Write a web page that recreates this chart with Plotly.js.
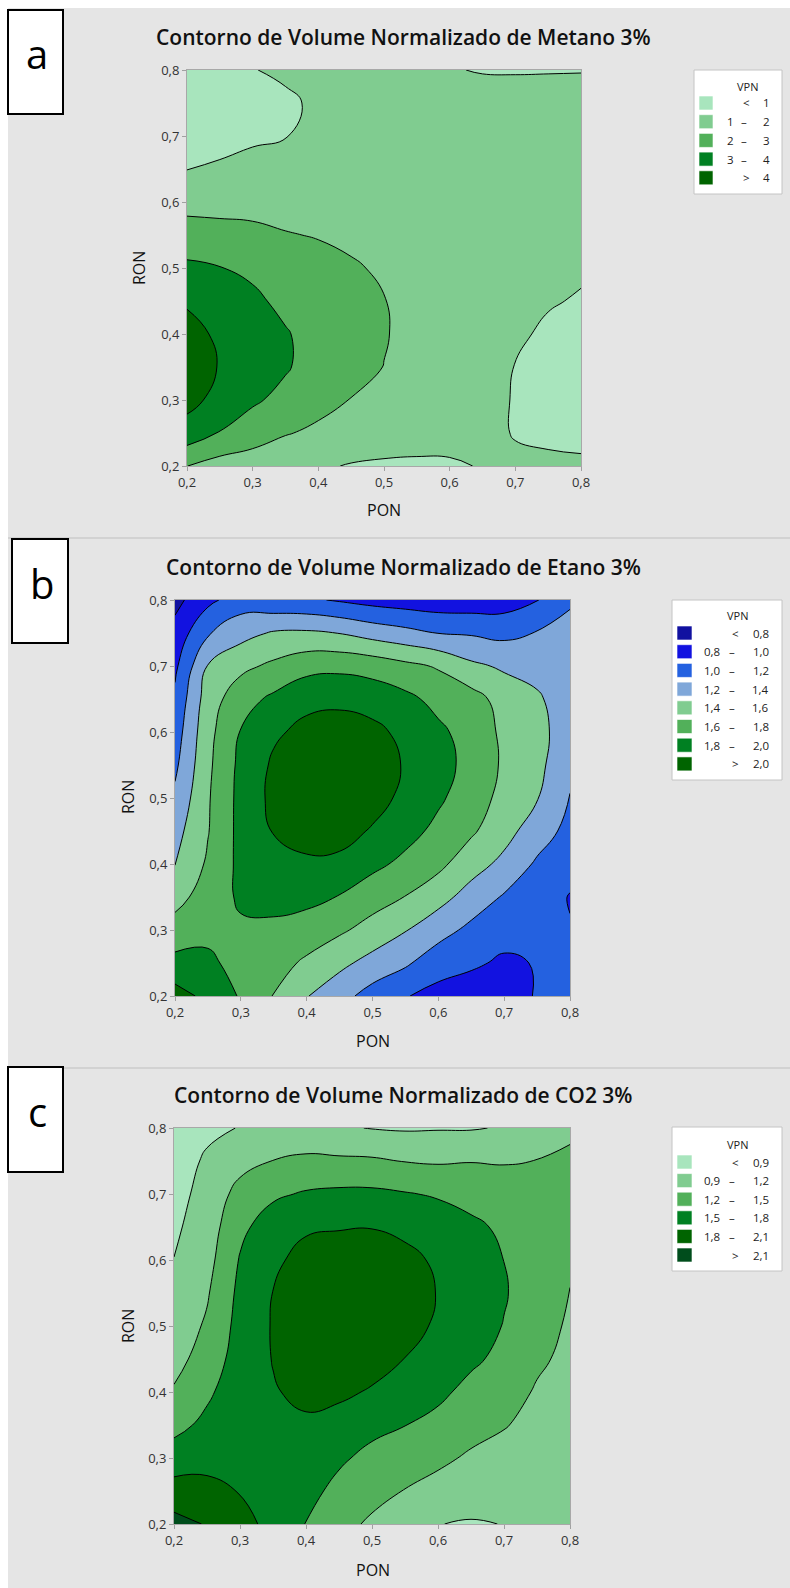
<!DOCTYPE html>
<html>
<head>
<meta charset="utf-8">
<script src="https://cdn.plot.ly/plotly-3.0.1.min.js"></script>
<style>
html,body{margin:0;padding:0;background:#ffffff;}
#chart{width:790px;height:1588px;}
</style>
</head>
<body>
<div id="chart"></div>
<script>
// ---------- grid (PON on x, RON on y) ----------
const pon = [0.2,0.25,0.3,0.35,0.4,0.45,0.5,0.55,0.6,0.65,0.7,0.75,0.8];
const ron = [0.2,0.25,0.3,0.35,0.4,0.45,0.5,0.55,0.6,0.65,0.7,0.75,0.8];
const tickVals = [0.2,0.3,0.4,0.5,0.6,0.7,0.8];

// ---------- (a) Metano 3% : VPN, rows = RON, cols = PON ----------
const vpnMetano = [
  [2.01,1.6,1.5,1.4,1.1,0.95,0.9,0.9,0.93,1.03,1.1,1.15,1.12],
  [3.6,2.95,2.45,2.05,1.85,1.5,1.35,1.25,1.2,1.15,0.97,0.85,0.8],
  [4.3,3.7,3.15,2.7,2.25,1.98,1.7,1.5,1.35,1.25,0.95,0.8,0.7],
  [4.5,3.95,3.4,3.1,2.55,2.2,1.99,1.7,1.5,1.35,0.98,0.82,0.72],
  [4.3,3.85,3.45,3.08,2.6,2.3,2.04,1.8,1.6,1.42,1.1,0.9,0.8],
  [3.9,3.5,3.2,2.75,2.5,2.25,2.02,1.8,1.6,1.45,1.25,1.05,0.95],
  [3.2,3.03,2.8,2.4,2.3,2.08,1.9,1.75,1.6,1.48,1.35,1.2,1.08],
  [2.4,2.35,2.25,2.05,1.95,1.85,1.75,1.65,1.55,1.5,1.45,1.35,1.25],
  [1.7,1.65,1.65,1.65,1.65,1.6,1.6,1.55,1.5,1.5,1.5,1.45,1.4],
  [0.98,1.1,1.2,1.25,1.4,1.45,1.5,1.5,1.45,1.45,1.5,1.5,1.45],
  [0.6,0.75,0.9,0.98,1.2,1.35,1.45,1.5,1.4,1.4,1.45,1.45,1.45],
  [0.45,0.55,0.75,0.9,1.1,1.3,1.45,1.45,1.3,1.3,1.3,1.3,1.3],
  [0.5,0.55,0.98,1.1,1.25,1.4,1.5,1.3,1.04,0.96,0.95,0.96,0.97]
];
const levelsMetano = [1,2,3,4];
const colorsMetano = ['#a8e5bd','#80cc90','#52b05a','#008022','#006400'];

// ---------- (b) Etano 3% ----------
const vpnEtano = [
  [2.08,1.95,1.78,1.59,1.41,1.27,1.12,1.01,0.94,0.9,0.88,1.02,1.08],
  [1.86,1.84,1.73,1.67,1.57,1.45,1.33,1.23,1.08,1.03,0.97,1.01,1.05],
  [1.68,1.75,1.77,1.76,1.7,1.63,1.53,1.41,1.28,1.15,1.07,1.05,1.01],
  [1.53,1.69,1.83,1.86,1.86,1.79,1.68,1.595,1.47,1.32,1.18,1.1,0.99],
  [1.395,1.63,1.85,1.94,1.97,1.95,1.85,1.75,1.65,1.48,1.35,1.17,1.07],
  [1.33,1.59,1.86,2.01,2.07,2.08,1.98,1.87,1.75,1.63,1.47,1.3,1.14],
  [1.24,1.58,1.86,2.05,2.12,2.15,2.08,1.95,1.83,1.7,1.54,1.41,1.19],
  [1.16,1.56,1.85,2.03,2.1,2.14,2.12,1.98,1.87,1.74,1.57,1.45,1.26],
  [1.1,1.54,1.81,1.97,2.05,2.08,2.05,1.95,1.84,1.72,1.56,1.46,1.3],
  [1.04,1.5,1.72,1.84,1.95,1.96,1.92,1.85,1.74,1.68,1.52,1.42,1.32],
  [0.96,1.41,1.55,1.64,1.73,1.75,1.72,1.65,1.58,1.44,1.37,1.35,1.3],
  [0.87,1.18,1.33,1.42,1.43,1.395,1.32,1.26,1.195,1.18,1.15,1.21,1.25],
  [0.74,0.95,1.1,1.05,1.03,0.98,0.93,0.9,0.88,0.88,0.9,0.99,1.18]
];
const levelsEtano = [0.8,1.0,1.2,1.4,1.6,1.8,2.0];
const colorsEtano = ['#1111a0','#1212e0','#2461e0','#7fa7d9','#80cc90','#52b05a','#008022','#006400'];

// ---------- (c) CO2 3% ----------
const vpnCO2 = [
  [2.2,2.08,1.87,1.74,1.49,1.3,1.15,1.04,0.905,0.88,0.905,0.98,1.02],
  [1.92,1.87,1.79,1.71,1.58,1.43,1.3,1.19,1.1,1.02,0.98,1.0,1.03],
  [1.64,1.72,1.72,1.72,1.66,1.54,1.43,1.33,1.26,1.16,1.08,1.04,1.05],
  [1.41,1.57,1.7,1.74,1.76,1.68,1.57,1.505,1.42,1.3,1.22,1.1,1.08],
  [1.23,1.45,1.67,1.78,1.86,1.86,1.77,1.64,1.56,1.42,1.33,1.17,1.1],
  [1.1,1.33,1.63,1.81,1.93,1.97,1.92,1.795,1.68,1.55,1.43,1.25,1.13],
  [1.02,1.24,1.6,1.82,1.97,2.02,2.0,1.9,1.76,1.62,1.49,1.32,1.16],
  [0.96,1.17,1.57,1.805,1.97,2.03,2.02,1.92,1.79,1.65,1.52,1.37,1.19],
  [0.905,1.1,1.52,1.74,1.9,1.96,1.96,1.87,1.76,1.63,1.498,1.39,1.25],
  [0.85,1.05,1.43,1.65,1.76,1.78,1.79,1.74,1.66,1.56,1.45,1.38,1.28],
  [0.8,1.0,1.3,1.45,1.53,1.56,1.56,1.52,1.47,1.4,1.35,1.32,1.28],
  [0.76,0.94,1.1,1.205,1.25,1.25,1.24,1.19,1.17,1.19,1.18,1.205,1.25],
  [0.73,0.84,0.91,0.98,1.02,0.93,0.89,0.87,0.88,0.88,0.92,1.05,1.15]
];
const levelsCO2 = [0.9,1.2,1.5,1.8,2.1];
const colorsCO2 = ['#a8e5bd','#80cc90','#52b05a','#008022','#006400','#004d1c'];

const titles = ['Contorno de Volume Normalizado de Metano 3%',
                'Contorno de Volume Normalizado de Etano 3%',
                'Contorno de Volume Normalizado de CO2 3%'];
const panelLetters = ['a','b','c'];
const legendTitle = 'VPN';
const xTitle = 'PON', yTitle = 'RON';

// ---------- helpers ----------
const W = 790, H = 1588;
const px = v => v / W;
const py = v => 1 - v / H;
const fmt = (v, dec) => v.toFixed(dec).replace('.', ',');

function bandScale(colors){
  const N = colors.length, out = [];
  for (let k = 0; k < N; k++){
    const a = Math.max(0, (k - 0.25) / (N - 1));
    const b = Math.min(1, (k + 0.75) / (N - 1));
    out.push([a, colors[k]]); out.push([b, colors[k]]);
  }
  return out;
}

const panels = [
  {z: vpnMetano, levels: levelsMetano, colors: colorsMetano, dec: 0,
   plot: [187, 70, 581, 466], top: 8, bottom: 537, title: [403, 37],
   box: [8, 10, 63, 114], letter: [37, 54],
   xt: [384, 510], yt: [139, 268],
   leg: {box: [694, 70, 782, 194], title: [747, 86], sw: [699, 713], y0: 103, dy: 18.7,
         lx: 730, dx: 744, rx: 772, sx: 746}},
  {z: vpnEtano, levels: levelsEtano, colors: colorsEtano, dec: 1,
   plot: [175, 600, 570, 996], top: 539, bottom: 1067, title: [403, 567],
   box: [12, 539, 68, 643], letter: [42, 583],
   xt: [373, 1041], yt: [128, 797],
   leg: {box: [672, 600, 782, 780], title: [737, 616], sw: [677, 692], y0: 633, dy: 18.7,
         lx: 712, dx: 732, rx: 771, sx: 735}},
  {z: vpnCO2, levels: levelsCO2, colors: colorsCO2, dec: 1,
   plot: [174, 1128, 570, 1524], top: 1069, bottom: 1588, title: [403, 1095],
   box: [8, 1067, 63, 1172], letter: [37, 1111],
   xt: [373, 1570], yt: [128, 1326],
   leg: {box: [672, 1127, 782, 1271], title: [737, 1144], sw: [677, 692], y0: 1162, dy: 18.6,
         lx: 712, dx: 732, rx: 771, sx: 735}}
];

const FONT = 'Open Sans, Noto Sans, sans-serif';
const data = [], shapes = [], annotations = [];
const layout = {
  width: W, height: H,
  margin: {l: 0, r: 0, t: 0, b: 0},
  paper_bgcolor: '#ffffff',
  plot_bgcolor: '#e5e5e5',
  separators: ', ',
  showlegend: false,
  font: {family: FONT, color: '#222'}
};

panels.forEach((p, i) => {
  const sfx = i === 0 ? '' : String(i + 1);
  const lv = p.levels;
  data.push({
    type: 'contour',
    x: pon, y: ron, z: p.z,
    xaxis: 'x' + sfx, yaxis: 'y' + sfx,
    autocontour: false,
    contours: {coloring: 'fill', start: lv[0], end: lv[lv.length - 1],
               size: +((lv[1] - lv[0]).toFixed(3)), showlines: true},
    line: {color: '#000000', width: 1, smoothing: 1.3},
    colorscale: bandScale(p.colors),
    showscale: false,
    hoverinfo: 'skip'
  });
  const axBase = {
    range: [0.2, 0.8], tickvals: tickVals, tickformat: '.1f',
    showgrid: false, zeroline: false,
    showline: true, mirror: true, linecolor: '#a8a8a8', linewidth: 1,
    ticks: 'outside', ticklen: 4, tickcolor: '#a0a0a0', tickwidth: 1,
    tickfont: {family: FONT, size: 13, color: '#333333'},
    fixedrange: true
  };
  layout['xaxis' + sfx] = Object.assign({}, axBase, {
    domain: [px(p.plot[0]), px(p.plot[2])],
    anchor: 'y' + sfx
  });
  layout['yaxis' + sfx] = Object.assign({}, axBase, {
    domain: [py(p.plot[3]), py(p.plot[1])],
    anchor: 'x' + sfx
  });

  // grey panel background and separator
  shapes.push({type: 'rect', xref: 'paper', yref: 'paper', layer: 'below',
    x0: px(8), x1: px(W), y0: py(p.bottom), y1: py(p.top),
    fillcolor: '#e5e5e5', line: {width: 0}});
  if (i > 0) {
    shapes.push({type: 'line', xref: 'paper', yref: 'paper', layer: 'below',
      x0: px(8), x1: px(W), y0: py(p.top - 1), y1: py(p.top - 1),
      line: {color: '#d2d2d2', width: 2}});
  }
  // letter box
  shapes.push({type: 'rect', xref: 'paper', yref: 'paper',
    x0: px(p.box[0]), x1: px(p.box[2]), y0: py(p.box[3]), y1: py(p.box[1]),
    fillcolor: '#ffffff', line: {color: '#000000', width: 2}});
  annotations.push({xref: 'paper', yref: 'paper', x: px(p.letter[0]), y: py(p.letter[1]),
    xanchor: 'center', yanchor: 'middle', showarrow: false, text: panelLetters[i],
    font: {family: FONT, size: 40, color: '#000000'}});

  // title and axis titles
  annotations.push({xref: 'paper', yref: 'paper', x: px(p.title[0]), y: py(p.title[1]),
    xanchor: 'center', yanchor: 'middle', showarrow: false, text: titles[i],
    font: {family: FONT, size: 21, color: '#111111', weight: 600}});
  annotations.push({xref: 'paper', yref: 'paper', x: px(p.xt[0]), y: py(p.xt[1]),
    xanchor: 'center', yanchor: 'middle', showarrow: false, text: xTitle,
    font: {family: FONT, size: 16, color: '#111111'}});
  annotations.push({xref: 'paper', yref: 'paper', x: px(p.yt[0]), y: py(p.yt[1]),
    xanchor: 'center', yanchor: 'middle', showarrow: false, text: yTitle, textangle: -90,
    font: {family: FONT, size: 16, color: '#111111'}});

  // legend
  const L = p.leg;
  shapes.push({type: 'rect', xref: 'paper', yref: 'paper',
    x0: px(L.box[0]), x1: px(L.box[2]), y0: py(L.box[3]), y1: py(L.box[1]),
    fillcolor: '#ffffff', line: {color: '#c4c4c4', width: 1}});
  annotations.push({xref: 'paper', yref: 'paper', x: px(L.title[0]), y: py(L.title[1]),
    xanchor: 'center', yanchor: 'middle', showarrow: false, text: legendTitle,
    font: {family: FONT, size: 11, color: '#222222'}});
  const legFont = {family: FONT, size: 11.5, color: '#222222'};
  p.colors.forEach((c, k) => {
    const yc = L.y0 + k * L.dy;
    shapes.push({type: 'rect', xref: 'paper', yref: 'paper',
      x0: px(L.sw[0]), x1: px(L.sw[1]), y0: py(yc + 7), y1: py(yc - 7),
      fillcolor: c, line: {color: 'rgba(255,255,255,0.6)', width: 1}});
    const right = k === 0 ? lv[0] : (k === p.colors.length - 1 ? lv[lv.length - 1] : lv[k]);
    annotations.push({xref: 'paper', yref: 'paper', x: px(L.rx), y: py(yc),
      xanchor: 'right', yanchor: 'middle', showarrow: false, text: fmt(right, p.dec), font: legFont});
    if (k === 0 || k === p.colors.length - 1) {
      annotations.push({xref: 'paper', yref: 'paper', x: px(L.sx), y: py(yc),
        xanchor: 'center', yanchor: 'middle', showarrow: false,
        text: k === 0 ? '&lt;' : '&gt;', font: legFont});
    } else {
      annotations.push({xref: 'paper', yref: 'paper', x: px(L.lx), y: py(yc),
        xanchor: 'center', yanchor: 'middle', showarrow: false, text: fmt(lv[k - 1], p.dec), font: legFont});
      annotations.push({xref: 'paper', yref: 'paper', x: px(L.dx), y: py(yc),
        xanchor: 'center', yanchor: 'middle', showarrow: false, text: '–', font: legFont});
    }
  });
});

layout.shapes = shapes;
layout.annotations = annotations;
Plotly.newPlot('chart', data, layout, {staticPlot: true, displayModeBar: false});
</script>
</body>
</html>
